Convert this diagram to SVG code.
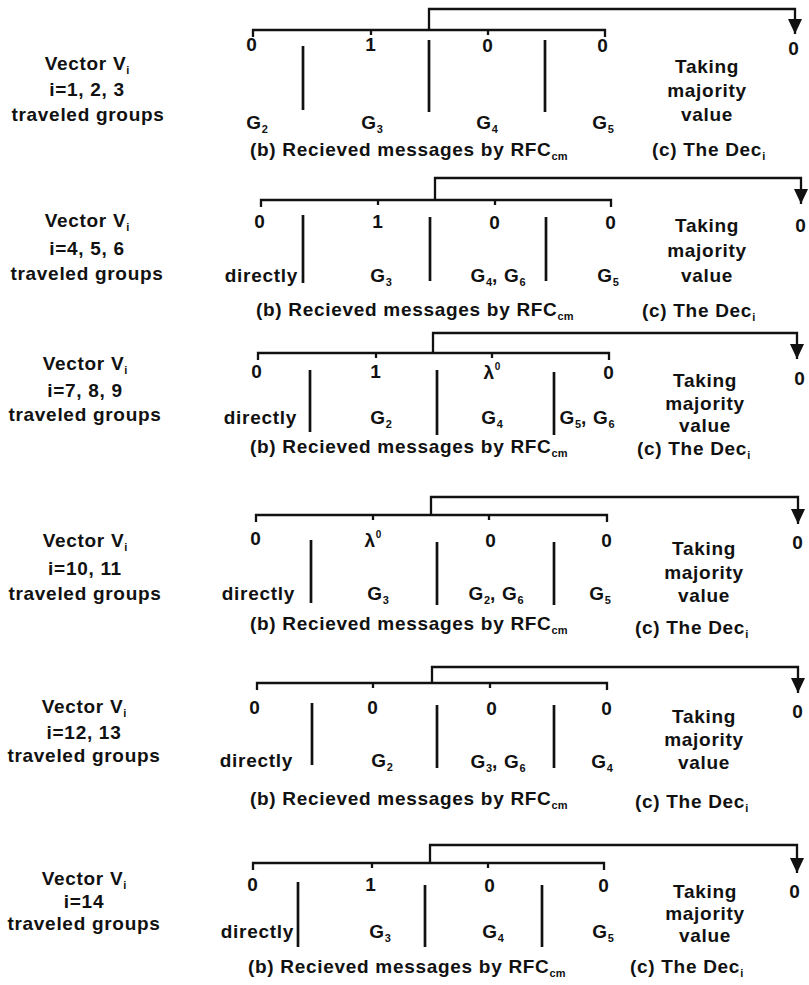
<svg xmlns="http://www.w3.org/2000/svg" width="809" height="985" viewBox="0 0 809 985">
<defs>
<style>
.t{font-family:"Liberation Sans",Arial,Helvetica,sans-serif;font-weight:bold;font-size:19px;letter-spacing:0.7px;fill:#111}
.m{text-anchor:middle}
.e{text-anchor:end}
.sub{font-size:11px;letter-spacing:0}
.sup{font-size:10px;letter-spacing:0}
.ln{stroke:#111;stroke-width:2.3;fill:none}
.bar{stroke:#111;stroke-width:2.7}
</style>
<marker id="ah" viewBox="0 0 15 14" refX="15" refY="7" markerWidth="15" markerHeight="14" markerUnits="userSpaceOnUse" orient="auto">
<path d="M0,0 L15,7 L0,14 z" fill="#111"/>
</marker>
</defs>
<rect width="809" height="985" fill="#fff"/>

<g id="connectors">
<path class="ln" d="M253,37 V30 H605 V37 M371,30 v5 M488,30 v5"/>
<path class="ln" d="M429,30 V9 H795 V34" marker-end="url(#ah)"/>
<path class="ln" d="M261,207 V200 H611 V207 M378,200 v5 M495,200 v5"/>
<path class="ln" d="M435,200 V178 H801 V204" marker-end="url(#ah)"/>
<path class="ln" d="M258,360 V353 H609 V360 M376,353 v5 M492,353 v5"/>
<path class="ln" d="M433,353 V333 H797 V359" marker-end="url(#ah)"/>
<path class="ln" d="M256,522 V515 H607 V522 M373,515 v5 M489,515 v5"/>
<path class="ln" d="M431,515 V497 H798 V524" marker-end="url(#ah)"/>
<path class="ln" d="M257,690 V683 H607 V690 M373,683 v5 M490,683 v5"/>
<path class="ln" d="M432,683 V667 H798 V693" marker-end="url(#ah)"/>
<path class="ln" d="M253,870 V863 H604 V870 M372,863 v5 M488,863 v5"/>
<path class="ln" d="M430,863 V845 H797 V873" marker-end="url(#ah)"/>
</g>

<g id="panel1">
<g id="p1-vector"><text class="t m" x="87" y="70">Vector V<tspan class="sub" dy="4">i</tspan></text><text class="t m" x="87" y="96">i=1, 2, 3</text><text class="t m" x="88" y="121">traveled groups</text></g>
<g id="p1-values"><text class="t m" x="252" y="51">0</text><text class="t m" x="371" y="51">1</text><text class="t m" x="488" y="52">0</text><text class="t m" x="603" y="52">0</text></g>
<g id="p1-bars"><line class="bar" x1="303" y1="46" x2="303" y2="110"/><line class="bar" x1="429" y1="40" x2="429" y2="112"/><line class="bar" x1="545" y1="40" x2="545" y2="112"/></g>
<g id="p1-groups"><text class="t m" x="257" y="129">G<tspan class="sub" dy="4">2</tspan></text><text class="t m" x="372" y="129">G<tspan class="sub" dy="4">3</tspan></text><text class="t m" x="487" y="129">G<tspan class="sub" dy="4">4</tspan></text><text class="t m" x="603" y="129">G<tspan class="sub" dy="4">5</tspan></text></g>
<text class="t" x="250" y="156">(b) Recieved messages by RFC<tspan class="sub" dy="4">cm</tspan></text>
<g id="p1-dec"><text class="t m" x="794" y="55">0</text><text class="t m" x="707" y="73">Taking</text><text class="t m" x="707" y="97">majority</text><text class="t m" x="707" y="121">value</text><text class="t" x="652" y="156">(c) The Dec<tspan class="sub" dy="4">i</tspan></text></g>
</g>

<g id="panel2">
<g id="p2-vector"><text class="t m" x="87" y="227">Vector V<tspan class="sub" dy="4">i</tspan></text><text class="t m" x="87" y="255">i=4, 5, 6</text><text class="t m" x="87" y="280">traveled groups</text></g>
<g id="p2-values"><text class="t m" x="260" y="228">0</text><text class="t m" x="378" y="228">1</text><text class="t m" x="495" y="229">0</text><text class="t m" x="611" y="229">0</text></g>
<g id="p2-bars"><line class="bar" x1="303" y1="215" x2="303" y2="283"/><line class="bar" x1="430" y1="217" x2="430" y2="281"/><line class="bar" x1="546" y1="217" x2="546" y2="281"/></g>
<g id="p2-groups"><text class="t e" x="298" y="282">directly</text><text class="t m" x="381" y="282">G<tspan class="sub" dy="4">3</tspan></text><text class="t m" x="498" y="282">G<tspan class="sub" dy="4">4</tspan><tspan dy="-4">, G</tspan><tspan class="sub" dy="4">6</tspan></text><text class="t m" x="608" y="282">G<tspan class="sub" dy="4">5</tspan></text></g>
<text class="t" x="256" y="316">(b) Recieved messages by RFC<tspan class="sub" dy="4">cm</tspan></text>
<g id="p2-dec"><text class="t m" x="801" y="232">0</text><text class="t m" x="707" y="232">Taking</text><text class="t m" x="707" y="257">majority</text><text class="t m" x="707" y="282">value</text><text class="t" x="642" y="317">(c) The Dec<tspan class="sub" dy="4">i</tspan></text></g>
</g>

<g id="panel3">
<g id="p3-vector"><text class="t m" x="85" y="370">Vector V<tspan class="sub" dy="4">i</tspan></text><text class="t m" x="85" y="397">i=7, 8, 9</text><text class="t m" x="85" y="421">traveled groups</text></g>
<g id="p3-values"><text class="t m" x="257" y="378">0</text><text class="t m" x="376" y="378">1</text><text class="t m" x="492" y="379">λ<tspan class="sup" dy="-9">0</tspan></text><text class="t m" x="609" y="379">0</text></g>
<g id="p3-bars"><line class="bar" x1="310" y1="370" x2="310" y2="432"/><line class="bar" x1="437" y1="370" x2="437" y2="435"/><line class="bar" x1="554" y1="372" x2="554" y2="435"/></g>
<g id="p3-groups"><text class="t e" x="297" y="424">directly</text><text class="t m" x="381" y="424">G<tspan class="sub" dy="4">2</tspan></text><text class="t m" x="492" y="424">G<tspan class="sub" dy="4">4</tspan></text><text class="t m" x="587" y="424">G<tspan class="sub" dy="4">5</tspan><tspan dy="-4">, G</tspan><tspan class="sub" dy="4">6</tspan></text></g>
<text class="t" x="250" y="453">(b) Recieved messages by RFC<tspan class="sub" dy="4">cm</tspan></text>
<g id="p3-dec"><text class="t m" x="800" y="385">0</text><text class="t m" x="705" y="387">Taking</text><text class="t m" x="705" y="410">majority</text><text class="t m" x="705" y="432">value</text><text class="t" x="637" y="455">(c) The Dec<tspan class="sub" dy="4">i</tspan></text></g>
</g>

<g id="panel4">
<g id="p4-vector"><text class="t m" x="85" y="547">Vector V<tspan class="sub" dy="4">i</tspan></text><text class="t m" x="85" y="575">i=10, 11</text><text class="t m" x="85" y="600">traveled groups</text></g>
<g id="p4-values"><text class="t m" x="256" y="545">0</text><text class="t m" x="373" y="547">λ<tspan class="sup" dy="-9">0</tspan></text><text class="t m" x="491" y="547">0</text><text class="t m" x="607" y="547">0</text></g>
<g id="p4-bars"><line class="bar" x1="311" y1="540" x2="311" y2="603"/><line class="bar" x1="437" y1="542" x2="437" y2="605"/><line class="bar" x1="554" y1="542" x2="554" y2="605"/></g>
<g id="p4-groups"><text class="t e" x="295" y="600">directly</text><text class="t m" x="378" y="600">G<tspan class="sub" dy="4">3</tspan></text><text class="t m" x="496" y="600">G<tspan class="sub" dy="4">2</tspan><tspan dy="-4">, G</tspan><tspan class="sub" dy="4">6</tspan></text><text class="t m" x="600" y="600">G<tspan class="sub" dy="4">5</tspan></text></g>
<text class="t" x="250" y="630">(b) Recieved messages by RFC<tspan class="sub" dy="4">cm</tspan></text>
<g id="p4-dec"><text class="t m" x="798" y="549">0</text><text class="t m" x="704" y="555">Taking</text><text class="t m" x="704" y="579">majority</text><text class="t m" x="704" y="602">value</text><text class="t" x="635" y="634">(c) The Dec<tspan class="sub" dy="4">i</tspan></text></g>
</g>

<g id="panel5">
<g id="p5-vector"><text class="t m" x="84" y="713">Vector V<tspan class="sub" dy="4">i</tspan></text><text class="t m" x="84" y="739">i=12, 13</text><text class="t m" x="84" y="762">traveled groups</text></g>
<g id="p5-values"><text class="t m" x="255" y="714">0</text><text class="t m" x="373" y="714">0</text><text class="t m" x="492" y="715">0</text><text class="t m" x="607" y="715">0</text></g>
<g id="p5-bars"><line class="bar" x1="312" y1="703" x2="312" y2="765"/><line class="bar" x1="437" y1="705" x2="437" y2="768"/><line class="bar" x1="554" y1="705" x2="554" y2="768"/></g>
<g id="p5-groups"><text class="t e" x="293" y="767">directly</text><text class="t m" x="382" y="767">G<tspan class="sub" dy="4">2</tspan></text><text class="t m" x="498" y="768">G<tspan class="sub" dy="4">3</tspan><tspan dy="-4">, G</tspan><tspan class="sub" dy="4">6</tspan></text><text class="t m" x="602" y="768">G<tspan class="sub" dy="4">4</tspan></text></g>
<text class="t" x="250" y="805">(b) Recieved messages by RFC<tspan class="sub" dy="4">cm</tspan></text>
<g id="p5-dec"><text class="t m" x="798" y="718">0</text><text class="t m" x="704" y="723">Taking</text><text class="t m" x="704" y="746">majority</text><text class="t m" x="704" y="769">value</text><text class="t" x="635" y="808">(c) The Dec<tspan class="sub" dy="4">i</tspan></text></g>
</g>

<g id="panel6">
<g id="p6-vector"><text class="t m" x="84" y="885">Vector V<tspan class="sub" dy="4">i</tspan></text><text class="t m" x="84" y="908">i=14</text><text class="t m" x="84" y="930">traveled groups</text></g>
<g id="p6-values"><text class="t m" x="253" y="891">0</text><text class="t m" x="371" y="891">1</text><text class="t m" x="490" y="892">0</text><text class="t m" x="604" y="892">0</text></g>
<g id="p6-bars"><line class="bar" x1="298" y1="882" x2="298" y2="947"/><line class="bar" x1="425" y1="885" x2="425" y2="947"/><line class="bar" x1="542" y1="885" x2="542" y2="947"/></g>
<g id="p6-groups"><text class="t e" x="294" y="938">directly</text><text class="t m" x="380" y="938">G<tspan class="sub" dy="4">3</tspan></text><text class="t m" x="493" y="938">G<tspan class="sub" dy="4">4</tspan></text><text class="t m" x="603" y="938">G<tspan class="sub" dy="4">5</tspan></text></g>
<text class="t" x="248" y="973">(b) Recieved messages by RFC<tspan class="sub" dy="4">cm</tspan></text>
<g id="p6-dec"><text class="t m" x="795" y="898">0</text><text class="t m" x="705" y="898">Taking</text><text class="t m" x="705" y="920">majority</text><text class="t m" x="705" y="942">value</text><text class="t" x="630" y="973">(c) The Dec<tspan class="sub" dy="4">i</tspan></text></g>
</g>
</svg>
